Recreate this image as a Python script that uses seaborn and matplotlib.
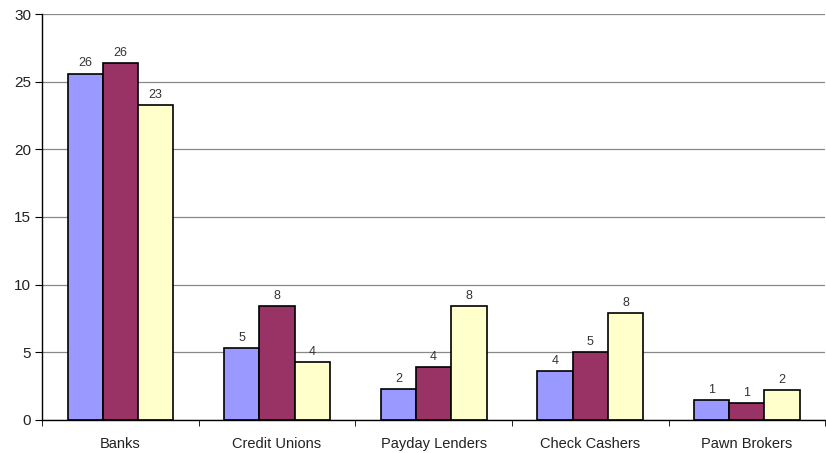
import matplotlib
matplotlib.use("Agg")
import matplotlib.pyplot as plt
import numpy as np
import pandas as pd
import seaborn as sns

categories = ['Banks', 'Credit Unions', 'Payday Lenders', 'Check Cashers', 'Pawn Brokers']
series_names = ['Series 1', 'Series 2', 'Series 3']
series_1 = [25.6, 5.3, 2.3, 3.6, 1.45]
series_2 = [26.4, 8.4, 3.9, 5.0, 1.25]
series_3 = [23.3, 4.3, 8.4, 7.9, 2.2]
colors = ['#9999FF', '#993366', '#FFFFCC']

rows = []
for name, vals in zip(series_names, [series_1, series_2, series_3]):
    for cat, v in zip(categories, vals):
        rows.append({'category': cat, 'series': name, 'value': v})
df = pd.DataFrame(rows)

sns.set_style('white')
plt.rcParams['font.family'] = ['Liberation Sans', 'DejaVu Sans']

fig = plt.figure(figsize=(8.26, 4.53), dpi=100)
ax = fig.add_axes([0.051, 0.073, 0.948, 0.896])

sns.barplot(data=df, x='category', y='value', hue='series', order=categories,
            hue_order=series_names, palette=colors, width=0.675, gap=0,
            edgecolor='black', linewidth=1.2, saturation=1, legend=False, ax=ax,
            errorbar=None)

for cont in ax.containers:
    ax.bar_label(cont, fmt='%.0f', padding=3, fontsize=9, color='#333333')

ax.set_ylim(0, 30)
ax.set_xlim(-0.5, len(categories) - 0.5)
ax.set_yticks(np.arange(0, 31, 5))
ax.yaxis.grid(True, color='#888888', linewidth=0.9)
ax.set_axisbelow(True)
ax.set_xlabel('')
ax.set_ylabel('')

for side in ['top', 'right']:
    ax.spines[side].set_visible(False)
ax.spines['left'].set_color('black')
ax.spines['bottom'].set_color('black')
ax.spines['left'].set_linewidth(1.0)
ax.spines['bottom'].set_linewidth(1.0)

ax.tick_params(axis='x', which='major', bottom=False, length=0, pad=12,
               labelsize=10.5, labelcolor='#222222')
ax.set_xticks(np.arange(-0.5, len(categories), 1), minor=True)
ax.tick_params(axis='x', which='minor', bottom=True, length=4, direction='out', color='black')
ax.tick_params(axis='y', left=True, length=5, direction='out', color='black',
               labelsize=11, pad=3, labelcolor='#222222')

fig.savefig('out.png', dpi=100)
